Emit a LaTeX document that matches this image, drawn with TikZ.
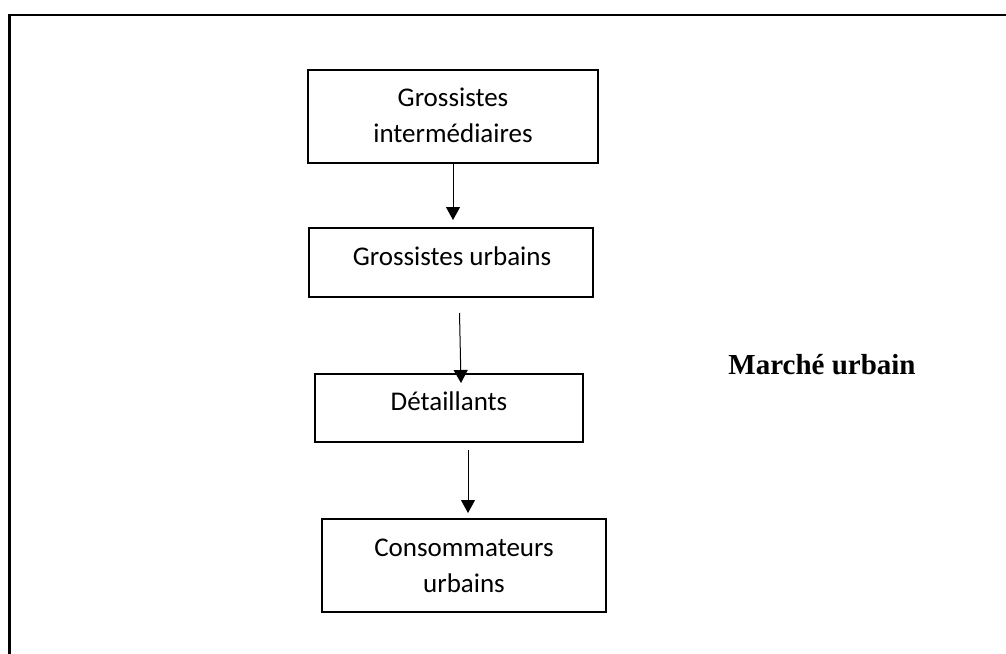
\documentclass[tikz,border=0pt]{standalone}
\usepackage{fontspec}
\setmainfont{Carlito}
\newfontfamily\timesfont{Liberation Serif}
\usetikzlibrary{arrows.meta}
\begin{document}
\begin{tikzpicture}[x=1pt,y=-1pt,
  box/.style={draw, line width=2pt, rectangle, inner sep=0pt},
  boxtext/.style={font=\fontsize{27}{36}\selectfont, align=center, inner sep=0pt, anchor=base},
  flow/.style={line width=1pt, -{Triangle[width=14pt,length=13pt]}},
  frame/.style={line width=2.5pt}]
\useasboundingbox (0,0) rectangle (1006,653);
% outer frame (cut off at right and bottom)
\coordinate (fr1) at (1010,15);
\coordinate (fr2) at (9.5,15);
\coordinate (fr3) at (9.5,660);
\draw[frame] (fr1) -- (fr2) -- (fr3);
% boxes
\node[box, minimum width=290pt, minimum height=93pt] (b1) at (453,116.5) {};
\node[box, minimum width=284pt, minimum height=69pt] (b2) at (451,262.5) {};
\node[box, minimum width=268pt, minimum height=68pt] (b3) at (449,408) {};
\node[box, minimum width=284pt, minimum height=93pt] (b4) at (464,565.5) {};
% texts
\node[boxtext] (t1) at (453,142) {Grossistes\\intermédiaires};
\node[boxtext] (t2) at (452,265) {Grossistes urbains};
\node[boxtext] (t3) at (449,410) {Détaillants};
\node[boxtext] (t4) at (464,592) {Consommateurs\\urbains};
\node[font=\timesfont\bfseries\fontsize{29}{34}\selectfont, inner sep=0pt, anchor=base] (mu) at (822,374) {Marché urbain};
% arrows
\coordinate (a1e) at (453,220);
\coordinate (a2s) at (459.5,313);
\coordinate (a2e) at (461,383);
\coordinate (a3s) at (468,450);
\coordinate (a3e) at (468,513);
\draw[flow] (b1.south -| a1e) -- (a1e);
\draw[flow] (a2s) -- (a2e);
\draw[flow] (a3s) -- (a3e);
\end{tikzpicture}
\end{document}
